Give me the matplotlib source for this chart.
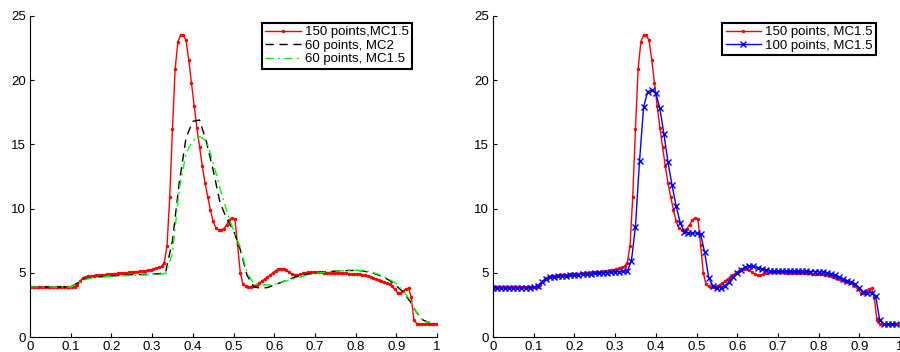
import numpy as np
import matplotlib
matplotlib.use("Agg")
import matplotlib.pyplot as plt

plt.rcParams['font.family'] = ['Liberation Sans', 'DejaVu Sans']

# 150 points, MC1.5 (red)
y150 = [3.9] * 16 + [
    3.92, 4.05, 4.35, 4.6, 4.68, 4.72, 4.75, 4.77, 4.79, 4.81,
    4.83, 4.85, 4.87, 4.89, 4.91, 4.93, 4.95, 4.97, 4.99, 5.01,
    5.03, 5.05, 5.07, 5.09, 5.11, 5.13, 5.16, 5.19, 5.23, 5.28,
    5.35, 5.42, 5.5, 5.8, 7.1, 10.9, 16.2, 20.9, 23.0, 23.5,
    23.5, 23.1, 21.6, 19.8, 18.0, 16.3, 14.8, 13.3, 12.0, 10.9,
    9.9, 9.0, 8.5, 8.35, 8.35, 8.45, 8.75, 9.1, 9.3, 9.2,
    7.2, 5.0, 4.1, 3.95, 3.9, 3.9, 3.95, 4.05, 4.2, 4.35,
    4.5, 4.65, 4.8, 5.0, 5.15, 5.28, 5.33, 5.3, 5.2, 5.05,
    4.9, 4.82, 4.82, 4.87, 4.95, 5.0, 5.03, 5.05, 5.05, 5.05,
    5.04, 5.03, 5.02, 5.01, 5.0, 4.99, 4.98, 4.97, 4.96, 4.95,
    4.95, 4.94, 4.93, 4.92, 4.9, 4.88, 4.85, 4.8, 4.74, 4.67,
    4.58, 4.5, 4.42, 4.33, 4.25, 4.18, 4.1, 3.95, 3.7, 3.45,
    3.4, 3.55, 3.75, 3.8, 3.1, 1.3, 1.05, 1.0, 1.0, 1.0,
    1.0, 1.0, 1.0, 1.0]

# 100 points, MC1.5 (blue)
y100 = [3.85] * 10 + [
    3.87, 4.0, 4.3, 4.55, 4.65, 4.7, 4.72, 4.75, 4.77, 4.8,
    4.82, 4.85, 4.88, 4.9, 4.93, 4.95, 4.97, 5.0, 5.02, 5.05,
    5.07, 5.1, 5.12, 5.15, 5.9, 8.6, 13.7, 17.9, 19.1, 19.25,
    19.0, 17.8, 15.8, 13.6, 11.8, 10.2, 8.9, 8.2, 8.1, 8.1,
    8.1, 8.0, 6.6, 4.6, 4.0, 3.85, 3.85, 4.0, 4.3, 4.65,
    4.95, 5.25, 5.45, 5.5, 5.5, 5.4, 5.3, 5.2, 5.15, 5.12,
    5.12, 5.12, 5.12, 5.12, 5.12, 5.12, 5.12, 5.12, 5.1, 5.1,
    5.1, 5.05, 5.0, 4.9, 4.8, 4.7, 4.55, 4.4, 4.25, 4.1,
    3.85, 3.5, 3.4, 3.45, 3.2, 1.35, 1.0, 1.0, 1.0, 1.0]

# 60 points, MC2 (black dashed)
y60_mc2 = [
    3.9, 3.9, 3.9, 3.9, 3.9, 3.9, 3.92, 4.2, 4.5, 4.62,
    4.68, 4.72, 4.76, 4.79, 4.82, 4.85, 4.87, 4.88, 4.9, 4.92,
    5.05, 7.5, 12.0, 15.5, 16.8, 16.9, 15.2, 13.0, 10.5, 9.2,
    8.3, 6.8, 4.8, 3.9, 3.8, 3.85, 4.05, 4.25, 4.45, 4.65,
    4.8, 4.9, 4.98, 5.05, 5.1, 5.13, 5.16, 5.18, 5.18, 5.15,
    5.05, 4.9, 4.7, 4.4, 4.0, 3.5, 2.8, 1.9, 1.3, 1.1]

# 60 points, MC1.5 (green dash-dot)
y60_mc15 = [
    3.9, 3.9, 3.9, 3.9, 3.9, 3.9, 3.9, 4.15, 4.45, 4.6,
    4.65, 4.68, 4.72, 4.75, 4.78, 4.8, 4.82, 4.83, 4.85, 4.87,
    4.95, 6.5, 11.5, 14.3, 15.3, 15.6, 15.3, 13.6, 11.6, 9.8,
    8.3, 7.0, 5.0, 4.15, 4.05, 4.05, 4.1, 4.25, 4.4, 4.55,
    4.7, 4.85, 4.95, 5.02, 5.08, 5.12, 5.16, 5.2, 5.2, 5.18,
    5.1, 4.95, 4.75, 4.5, 4.15, 3.6, 2.9, 1.9, 1.2, 1.15]

x150 = (np.arange(len(y150)) + 0.5) / 150
x100 = np.arange(len(y100)) / 100
x60 = np.arange(len(y60_mc2)) / 60

xticks = np.arange(0, 1.01, 0.1)
xticklabels = ['0', '0.1', '0.2', '0.3', '0.4', '0.5', '0.6', '0.7', '0.8', '0.9', '1']
yticks = [0, 5, 10, 15, 20, 25]

fig = plt.figure(figsize=(9, 3.52), dpi=100)
ax1 = fig.add_axes([30 / 900, 15 / 352, 407 / 900, 321 / 352])
ax2 = fig.add_axes([493 / 900, 15 / 352, 407 / 900, 321 / 352])

ax1.plot(x150, y150, color='red', lw=1, marker='.', ms=3, label='150 points,MC1.5')
ax1.plot(x60, y60_mc2, color='black', lw=1, ls=(0, (6, 4)), label='60 points, MC2')
ax1.plot(x60, y60_mc15, color=(0, 1, 0), lw=1, ls=(0, (6, 3, 1.5, 3)), label='60 points, MC1.5')

ax2.plot(x150, y150, color='red', lw=1, marker='.', ms=3, label='150 points, MC1.5')
ax2.plot(x100, y100, color='blue', lw=1, marker='x', ms=4, mew=1, label='100 points, MC1.5')

for ax in (ax1, ax2):
    ax.set_xlim(0, 1)
    ax.set_ylim(0, 25)
    ax.set_xticks(xticks)
    ax.set_xticklabels(xticklabels)
    ax.set_yticks(yticks)
    ax.tick_params(direction='in', length=3, labelsize=9.5, pad=3)
    ax.spines['top'].set_visible(False)
    ax.spines['right'].set_visible(False)
    ax.spines['left'].set_linewidth(0.8)
    ax.spines['bottom'].set_linewidth(0.8)

for ax, anchor in ((ax1, 0.939), (ax2, 0.941)):
    leg = ax.legend(loc='upper right', bbox_to_anchor=(anchor, 0.979), borderaxespad=0,
                    fontsize=9.5, fancybox=False, framealpha=1, handlelength=2.7,
                    handletextpad=0.3, labelspacing=0.1, borderpad=0.25)
    leg.get_frame().set_edgecolor('black')
    leg.get_frame().set_linewidth(1.5)

fig.savefig('out.png', dpi=100)
